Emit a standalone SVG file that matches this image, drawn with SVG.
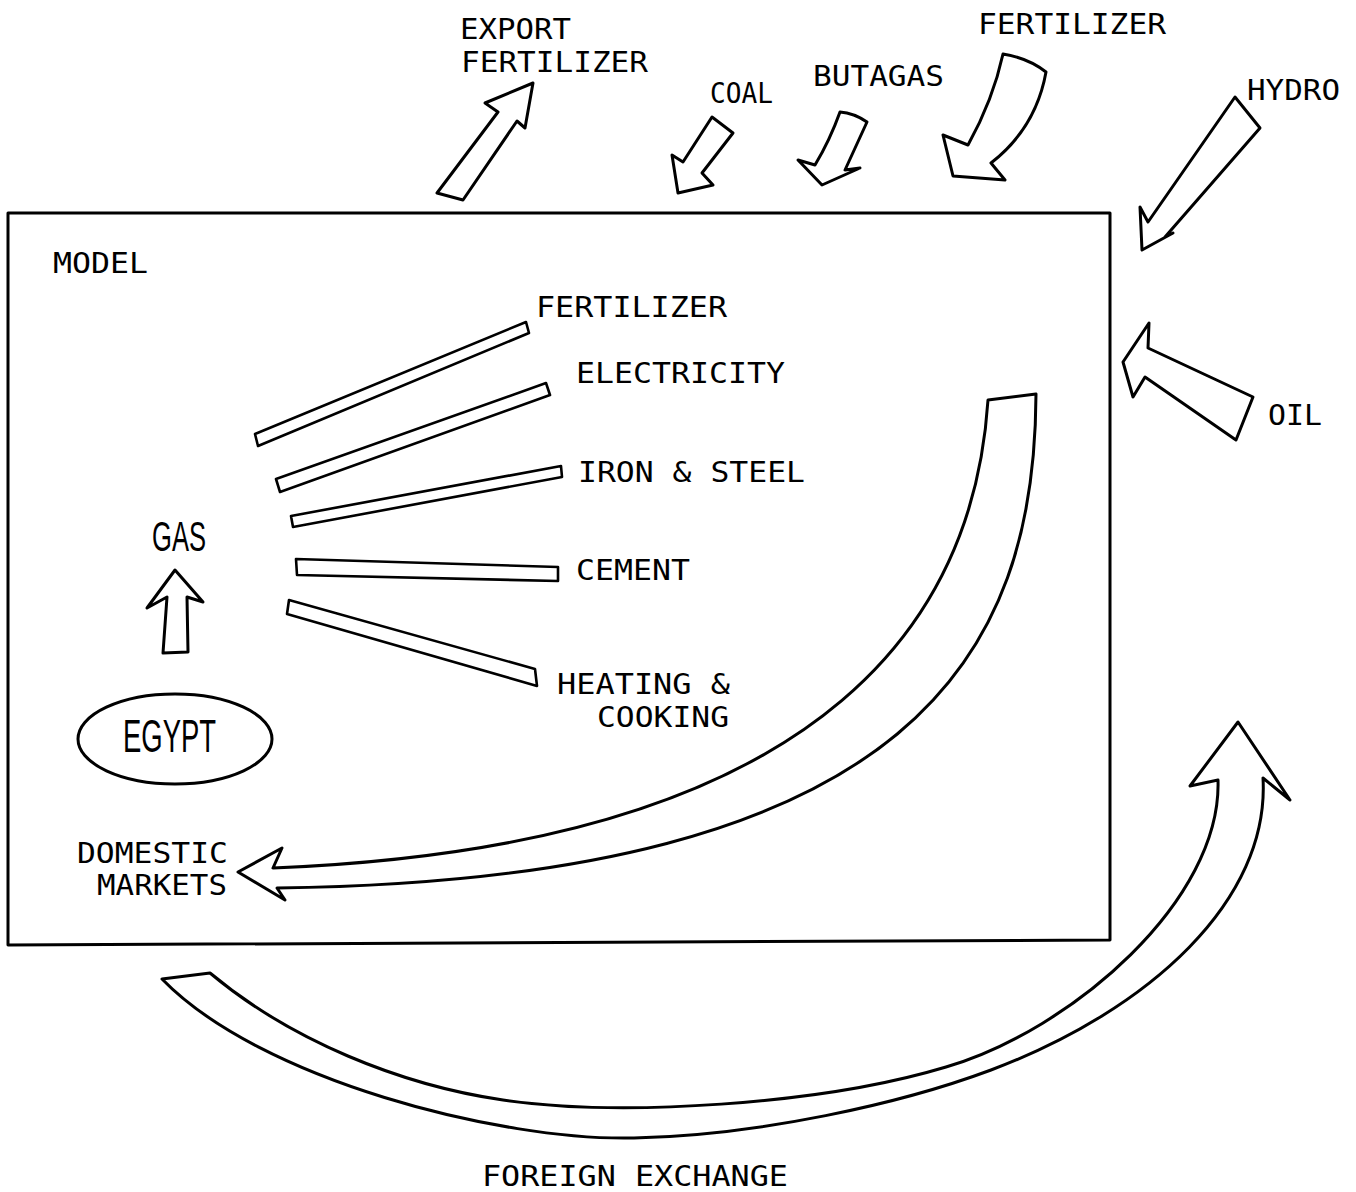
<svg xmlns="http://www.w3.org/2000/svg" width="1356" height="1192" viewBox="0 0 1356 1192">
<style>
.ln{fill:none;stroke:#000;stroke-width:3;stroke-linejoin:round;stroke-linecap:round}
.ar{fill:#fff;stroke:#000;stroke-width:3;stroke-linejoin:round;stroke-linecap:round}
.bar{fill:#fff;stroke:#000;stroke-width:2.6;stroke-linejoin:round}
.t{font-family:"DejaVu Sans Mono","Liberation Mono",monospace;font-size:29px;fill:#000}
.n{font-family:"Liberation Sans",Arial,sans-serif;fill:#000}
</style>
<rect width="1356" height="1192" fill="#fff"/>
<g id="model">
<polygon class="ln" points="8,213 1110,213 1110,940 8,945"/>
<text class="t" x="53" y="273" textLength="95" lengthAdjust="spacingAndGlyphs">MODEL</text>
</g>
<g id="egypt">
<ellipse class="ln" cx="175" cy="739" rx="97" ry="45" stroke-width="2.5"/>
<text class="n" x="123" y="752" font-size="47" textLength="93" lengthAdjust="spacingAndGlyphs">EGYPT</text>
</g>
<g id="gas">
<text class="n" x="152" y="551" font-size="42" textLength="54" lengthAdjust="spacingAndGlyphs">GAS</text>
</g>
<g id="sector-fertilizer">
<polygon class="bar" points="255,434 526,322 529,333 258,446"/>
<text class="t" x="536" y="317" textLength="191" lengthAdjust="spacingAndGlyphs">FERTILIZER</text>
</g>
<g id="sector-electricity">
<polygon class="bar" points="276,479 546,383 550,395 280,492"/>
<text class="t" x="576" y="383" textLength="209" lengthAdjust="spacingAndGlyphs">ELECTRICITY</text>
</g>
<g id="sector-iron-steel">
<polygon class="bar" points="291,516 561,466 562,477 293,527"/>
<text class="t" x="578" y="482" textLength="227" lengthAdjust="spacingAndGlyphs">IRON &amp; STEEL</text>
</g>
<g id="sector-cement">
<polygon class="bar" points="296,559 558,567 558,581 297,575"/>
<text class="t" x="576" y="580" textLength="114" lengthAdjust="spacingAndGlyphs">CEMENT</text>
</g>
<g id="sector-heating">
<polygon class="bar" points="289,600 535,669 537,686 287,614"/>
<text class="t" x="557" y="694" textLength="173" lengthAdjust="spacingAndGlyphs">HEATING &amp;</text>
<text class="t" x="597" y="727" textLength="132" lengthAdjust="spacingAndGlyphs">COOKING</text>
</g>
<g id="domestic-markets">
<text class="t" x="77" y="863" textLength="151" lengthAdjust="spacingAndGlyphs">DOMESTIC</text>
<text class="t" x="97" y="895" textLength="130" lengthAdjust="spacingAndGlyphs">MARKETS</text>
</g>
<g id="export-fertilizer">
<text class="t" x="460" y="39" textLength="111" lengthAdjust="spacingAndGlyphs">EXPORT</text>
<text class="t" x="461" y="72" textLength="187" lengthAdjust="spacingAndGlyphs">FERTILIZER</text>
</g>
<g id="coal"><text class="t" x="710" y="103" textLength="63" lengthAdjust="spacingAndGlyphs">COAL</text></g>
<g id="butagas"><text class="t" x="813" y="86" textLength="131" lengthAdjust="spacingAndGlyphs">BUTAGAS</text></g>
<g id="fertilizer-in"><text class="t" x="978" y="34" textLength="188" lengthAdjust="spacingAndGlyphs">FERTILIZER</text></g>
<g id="hydro"><text class="t" x="1247" y="100" textLength="93" lengthAdjust="spacingAndGlyphs">HYDRO</text></g>
<g id="oil"><text class="t" x="1268" y="425" textLength="54" lengthAdjust="spacingAndGlyphs">OIL</text></g>
<g id="foreign-exchange"><text class="t" x="482" y="1186" textLength="306" lengthAdjust="spacingAndGlyphs">FOREIGN EXCHANGE</text></g>
<g id="connectors">
<path id="a-gas" class="ar" d="M175,570 L147,608 L167,597 L163,653 L188,652 L187,597 L203,602 Z"/>
<path id="a-export" class="ar" d="M437,193 L498,112 L485,103 L533,83 L525,128 L517,121 L463,200 Z"/>
<path id="a-coal" class="ar" d="M712,117 L683,162 L672,155 L678,193 L713,185 L702,173 L733,133 Z"/>
<path id="a-butagas" class="ar" d="M840,112 Q854,113 867,122 L845,170 L860,168 L822,185 L798,160 L815,165 Q830,140 840,112 Z"/>
<path id="a-fertilizer" class="ar" d="M1003,54 Q1028,58 1046,72 Q1036,128 991,163 L1005,180 L953,176 L943,135 L968,145 Q993,100 1003,54 Z"/>
<path id="a-hydro" class="ar" d="M1235,97 L1260,128 L1165,237 L1173,233 L1142,250 L1140,207 L1148,222 Z"/>
<path id="a-oil" class="ar" d="M1123,362 L1149,323 L1148,348 L1253,397 L1236,440 L1145,377 L1133,397 Z"/>
<path id="a-domestic" class="ar" d="M238,872 L282,848 L273,868 C850,845 975,600 988,400 L1036,394 C1035,650 920,880 277,888 L285,900 Z"/>
<path id="a-foreign" class="ar" d="M162,979 L210,973 C290,1040 400,1085 503,1100 C620,1117 820,1105 946,1067 C1072,1030 1222,900 1218,780 L1190,786 L1238,722 L1290,800 L1263,778 C1270,900 1150,1010 991,1070 C900,1104 760,1135 634,1138 C500,1141 260,1080 162,979 Z"/>
</g>
</svg>
